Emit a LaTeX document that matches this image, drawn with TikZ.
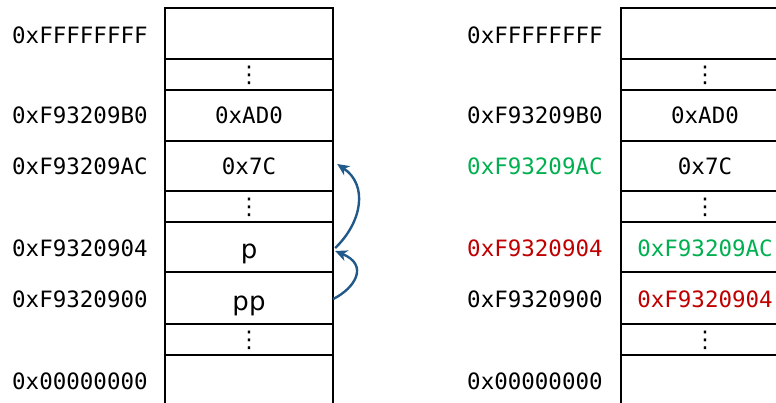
\documentclass[tikz,border=0pt]{standalone}
\usepackage{fontspec}
\newfontfamily\monof{DejaVu Sans Mono}
\newfontfamily\sansf{DejaVu Sans}
\usetikzlibrary{arrows.meta}
\definecolor{grn}{HTML}{00B050}
\definecolor{rd}{HTML}{C00000}
\definecolor{arr}{HTML}{215A8A}
\begin{document}
\begin{tikzpicture}[x=1pt,y=-1pt,
  grid/.style={line width=1.8pt,black},
  addr/.style={anchor=west,inner sep=0pt,font=\monof\fontsize{22.5}{27}\selectfont},
  val/.style={inner sep=0pt,minimum width=168pt,font=\monof\fontsize{22.5}{27}\selectfont},
  ptr/.style={inner sep=0pt,minimum width=168pt,font=\sansf\fontsize{26}{31}\selectfont},
  vd/.style={inner sep=0pt,font=\sansf\fontsize{23}{28}\selectfont},
  link/.style={line width=2.4pt,arr,-{Stealth[length=12pt,width=11pt,inset=3.5pt]}}]
\useasboundingbox (0,0) rectangle (776,402);
\clip (0,0) rectangle (776,402);
% grids
\foreach \L in {165,621}{
  \foreach \y in {8,59,90,141,191,222,272,324,355}
    \draw[grid] (\L-0.9,\y) -- (\L+168.9,\y);
  \draw[grid] (\L,8) -- (\L,410);
  \draw[grid] (\L+168,8) -- (\L+168,410);
}
% left addresses
\node[addr] (la1) at (12,35) {0xFFFFFFFF};
\node[addr] (la2) at (12,115) {0xF93209B0};
\node[addr] (la3) at (12,166) {0xF93209AC};
\node[addr] (la4) at (12,248) {0xF9320904};
\node[addr] (la5) at (12,299) {0xF9320900};
\node[addr] (la6) at (12,381) {0x00000000};
% left cells
\node[vd] (ld1) at (249,75.5) {⋮};
\node[val] (lb0) at (249,115) {0xAD0};
\node[val] (lac) at (249,166) {0x7C};
\node[vd] (ld2) at (249,207.5) {⋮};
\node[ptr] (p) at (249,254) {p};
\node[ptr] (pp) at (249,306) {pp};
\node[vd] (ld3) at (249,340.5) {⋮};
% right addresses
\node[addr] (ra1) at (467,35) {0xFFFFFFFF};
\node[addr] (ra2) at (467,115) {0xF93209B0};
\node[addr,text=grn] (ra3) at (467,166) {0xF93209AC};
\node[addr,text=rd] (ra4) at (467,248) {0xF9320904};
\node[addr] (ra5) at (467,299) {0xF9320900};
\node[addr] (ra6) at (467,381) {0x00000000};
% right cells
\node[vd] (rd1) at (705,75.5) {⋮};
\node[val] (rb0) at (705,115) {0xAD0};
\node[val] (rac) at (705,166) {0x7C};
\node[vd] (rd2) at (705,207.5) {⋮};
\node[val,text=grn] (rp) at (705,248) {0xF93209AC};
\node[val,text=rd] (rpp) at (705,299) {0xF9320904};
\node[vd] (rd3) at (705,340.5) {⋮};
% arrows
\draw[link] ([yshift=7pt]pp.east) .. controls +(22,-11) and +(34,14) .. ([xshift=2pt,yshift=3pt]p.east);
\draw[link] ([xshift=2pt,yshift=6pt]p.east) .. controls +(27,-26) and +(31,21) .. ([xshift=4pt,yshift=2pt]lac.east);
\end{tikzpicture}
\end{document}
